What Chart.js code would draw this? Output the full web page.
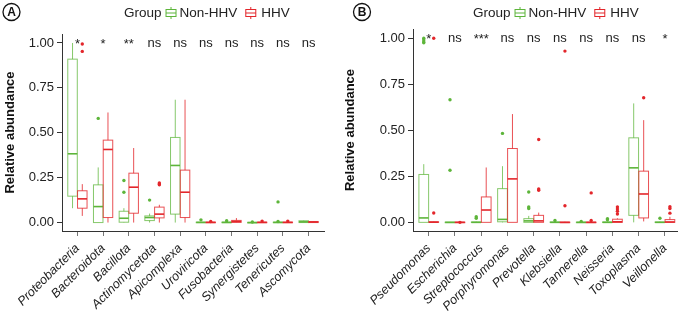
<!DOCTYPE html>
<html>
<head>
<meta charset="utf-8">
<script src="https://cdn.jsdelivr.net/npm/chart.js@4.4.0/dist/chart.umd.min.js"></script>
<style>
  body { margin: 0; background: #fff; width: 681px; height: 318px; overflow: hidden; position: relative; }
  .panel { position: absolute; top: 0; height: 318px; }
  #panel-a { left: 0; width: 340px; }
  #panel-b { left: 340px; width: 341px; }
</style>
</head>
<body>
<div class="panel" id="panel-a"><canvas id="chart-a"></canvas></div>
<div class="panel" id="panel-b"><canvas id="chart-b"></canvas></div>
<script>
const GREEN = '#5DB53A';
const RED = '#E3262B';
const GREEN_LINE = 'rgba(93,181,58,0.75)';
const RED_LINE = 'rgba(227,38,43,0.8)';
const FONT = '"Liberation Sans", Arial, Helvetica, sans-serif';

// Panel A: phyla
const phylaCategories = ['Proteobacteria', 'Bacteroidota', 'Bacillota', 'Actinomycetota', 'Apicomplexa',
    'Uroviricota', 'Fusobacteria', 'Synergistetes', 'Tenericutes', 'Ascomycota'];
const phylaSignif = ['*', '*', '**', 'ns', 'ns', 'ns', 'ns', 'ns', 'ns', 'ns'];
// [whisker low, q1, median, q3, whisker high]
const phylaNonHhv = [
    [0.08, 0.147, 0.383, 0.91, 1.00],
    [0.0, 0.0, 0.089, 0.21, 0.307],
    [0.0, 0.002, 0.024, 0.063, 0.08],
    [0.0, 0.011, 0.028, 0.037, 0.05],
    [0.0, 0.047, 0.318, 0.474, 0.684],
    [0, 0, 0.001, 0.002, 0.003],
    [0, 0, 0.001, 0.002, 0.003],
    [0, 0, 0, 0.001, 0.002],
    [0, 0, 0.001, 0.002, 0.004],
    [0, 0, 0.004, 0.01, 0.012]
];
const phylaHhv = [
    [0.037, 0.08, 0.132, 0.177, 0.214],
    [0.0, 0.028, 0.407, 0.459, 0.613],
    [0.0, 0.052, 0.197, 0.275, 0.415],
    [0.0, 0.026, 0.047, 0.086, 0.099],
    [0.0, 0.028, 0.169, 0.292, 0.684],
    [0, 0, 0.001, 0.002, 0.004],
    [0, 0.001, 0.006, 0.012, 0.025],
    [0, 0, 0.001, 0.002, 0.003],
    [0, 0, 0.001, 0.002, 0.003],
    [0, 0, 0.003, 0.006, 0.008]
];
// [category index, value]
const phylaOutNonHhv = [[1, 0.58], [2, 0.234], [2, 0.169], [3, 0.125], [5, 0.015], [6, 0.01],
    [7, 0.003], [8, 0.115], [8, 0.006]];
const phylaOutHhv = [[0, 0.994], [0, 0.953], [3, 0.22], [3, 0.215], [3, 0.21], [5, 0.006],
    [7, 0.008], [8, 0.008]];

// Panel B: genera
const genusCategories = ['Pseudomonas', 'Escherichia', 'Streptococcus', 'Porphyromonas', 'Prevotella',
    'Klebsiella', 'Tannerella', 'Neisseria', 'Toxoplasma', 'Veillonella'];
const genusSignif = ['*', 'ns', '***', 'ns', 'ns', 'ns', 'ns', 'ns', 'ns', '*'];
const genusNonHhv = [
    [0, 0, 0.024, 0.26, 0.316],
    [0, 0, 0, 0.001, 0.002],
    [0, 0, 0, 0.002, 0.004],
    [0, 0.003, 0.016, 0.183, 0.305],
    [0, 0, 0.008, 0.02, 0.035],
    [0, 0, 0, 0.002, 0.004],
    [0, 0, 0, 0.001, 0.003],
    [0, 0, 0, 0.002, 0.004],
    [0, 0.038, 0.296, 0.459, 0.646],
    [0, 0, 0, 0.002, 0.004]
];
const genusHhv = [
    [0, 0, 0.001, 0.003, 0.005],
    [0, 0, 0, 0.001, 0.002],
    [0, 0, 0.067, 0.138, 0.298],
    [0, 0, 0.236, 0.401, 0.588],
    [0, 0, 0.008, 0.038, 0.053],
    [0, 0, 0, 0.001, 0.003],
    [0, 0, 0, 0.001, 0.003],
    [0, 0, 0.003, 0.017, 0.022],
    [0.005, 0.024, 0.154, 0.278, 0.555],
    [0, 0, 0.002, 0.015, 0.03]
];
const genusOutNonHhv = [[0, 1.0], [0, 0.99], [0, 0.98], [0, 0.975], [1, 0.283], [1, 0.666], [2, 0.03],
    [2, 0.022], [3, 0.483], [4, 0.165], [4, 0.083], [4, 0.075], [5, 0.01], [6, 0.005], [7, 0.02],
    [7, 0.014], [9, 0.022]];
const genusOutHhv = [[0, 0.051], [0, 1.0], [1, 0.0], [4, 0.45], [4, 0.181], [4, 0.174], [5, 0.09],
    [5, 0.93], [6, 0.16], [6, 0.01], [7, 0.083], [7, 0.072], [7, 0.06], [7, 0.045], [8, 0.677],
    [9, 0.085], [9, 0.075], [9, 0.05]];

const yTicks = [0, 0.25, 0.5, 0.75, 1.0];
const groupNames = ['Non-HHV', 'HHV'];
const DODGE = 0.19;
const HALF = 0.185;

Chart.defaults.font.family = FONT;

function drawLegendIcon(ctx, x, cy, color) {
    ctx.strokeStyle = color;
    ctx.lineWidth = 1;
    ctx.beginPath();
    ctx.moveTo(x + 5.5, cy - 6); ctx.lineTo(x + 5.5, cy - 3.5);
    ctx.moveTo(x + 5.5, cy + 3.5); ctx.lineTo(x + 5.5, cy + 6);
    ctx.strokeRect(x + 0.5, cy - 3.5, 10, 7);
    ctx.moveTo(x + 0.5, cy); ctx.lineTo(x + 10.5, cy);
    ctx.stroke();
}

function makePanelPlugin(panel) {
    return {
        id: 'panel' + panel.letter,
        beforeDatasetsDraw(chart) {
            const { ctx, scales: { x, y } } = chart;
            const groups = [
                { stats: panel.nonHhv, offset: -DODGE, line: GREEN_LINE, color: GREEN },
                { stats: panel.hhv, offset: DODGE, line: RED_LINE, color: RED }
            ];
            ctx.save();
            groups.forEach(g => {
                g.stats.forEach((s, i) => {
                    const cx = i + g.offset;
                    const xl = x.getPixelForValue(cx - HALF);
                    const xr = x.getPixelForValue(cx + HALF);
                    const xc = x.getPixelForValue(cx);
                    const [lo, q1, med, q3, hi] = s.map(v => y.getPixelForValue(v));
                    ctx.strokeStyle = g.line;
                    ctx.lineWidth = 1;
                    ctx.beginPath();
                    ctx.moveTo(xc, hi); ctx.lineTo(xc, q3);
                    ctx.moveTo(xc, q1); ctx.lineTo(xc, lo);
                    ctx.stroke();
                    ctx.strokeRect(xl, q3, xr - xl, Math.max(q1 - q3, 0.5));
                    ctx.strokeStyle = g.color;
                    ctx.lineWidth = 1.6;
                    ctx.beginPath();
                    ctx.moveTo(xl, med); ctx.lineTo(xr, med);
                    ctx.stroke();
                });
            });
            ctx.restore();
        },
        afterDraw(chart) {
            const { ctx, scales: { x, y } } = chart;
            ctx.save();
            // significance labels
            ctx.fillStyle = '#222';
            ctx.font = '13px ' + FONT;
            ctx.textAlign = 'center';
            ctx.textBaseline = 'middle';
            panel.signif.forEach((t, i) => {
                const ty = t === 'ns' ? y.getPixelForValue(1.0) : y.getPixelForValue(1.0) + 1;
                ctx.fillText(t, x.getPixelForValue(i), ty);
            });
            // panel letter
            ctx.strokeStyle = '#111';
            ctx.lineWidth = 1.3;
            ctx.beginPath();
            ctx.arc(panel.letterX, 12, 8.5, 0, Math.PI * 2);
            ctx.stroke();
            ctx.fillStyle = '#111';
            ctx.font = 'bold 12px ' + FONT;
            ctx.fillText(panel.letter, panel.letterX, 12.5);
            // legend
            ctx.font = '13.5px ' + FONT;
            ctx.textAlign = 'left';
            ctx.fillStyle = '#222';
            let lx = panel.legendX;
            const ly = 13;
            ctx.fillText('Group', lx, ly);
            lx += ctx.measureText('Group').width + 4;
            drawLegendIcon(ctx, lx, ly, GREEN);
            lx += 14;
            ctx.fillText(groupNames[0], lx, ly);
            lx += ctx.measureText(groupNames[0]).width + 8;
            drawLegendIcon(ctx, lx, ly, RED);
            lx += 16;
            ctx.fillText(groupNames[1], lx, ly);
            ctx.restore();
        }
    };
}

function buildPanel(canvasId, panel) {
    const outData = (list, off) => list.map(([i, v]) => ({ x: i + off, y: v }));
    return new Chart(document.getElementById(canvasId), {
        type: 'scatter',
        data: {
            datasets: [
                { label: groupNames[0], data: outData(panel.outNonHhv, -DODGE), backgroundColor: GREEN,
                    borderWidth: 0, pointRadius: 1.7 },
                { label: groupNames[1], data: outData(panel.outHhv, DODGE), backgroundColor: RED,
                    borderWidth: 0, pointRadius: 1.7 }
            ]
        },
        options: {
            responsive: true,
            maintainAspectRatio: false,
            animation: false,
            layout: { padding: { top: panel.padTop, right: panel.padRight, left: 0, bottom: 0 } },
            plugins: { legend: { display: false }, tooltip: { enabled: false } },
            scales: {
                x: {
                    type: 'linear',
                    min: -0.6,
                    max: panel.xMax,
                    afterBuildTicks: s => { s.ticks = panel.categories.map((c, i) => ({ value: i })); },
                    afterFit: s => { s.height = 87; s.paddingLeft = 0; s.paddingRight = 0; },
                    ticks: {
                        autoSkip: false,
                        maxRotation: 45,
                        minRotation: 45,
                        padding: 5,
                        color: '#222',
                        font: { size: 12.5, style: 'italic' },
                        callback: v => panel.categories[v]
                    },
                    grid: { drawOnChartArea: false, drawTicks: true, tickLength: 5, color: '#777' },
                    border: { color: '#333', width: 1 }
                },
                y: {
                    type: 'linear',
                    min: -0.047,
                    max: 1.05,
                    afterBuildTicks: s => { s.ticks = yTicks.map(v => ({ value: v })); },
                    afterFit: s => { s.width = panel.leftWidth; s.paddingTop = 0; s.paddingBottom = 0; },
                    ticks: {
                        padding: 3,
                        color: '#222',
                        font: { size: 13 },
                        callback: v => v.toFixed(2)
                    },
                    grid: { drawOnChartArea: false, drawTicks: true, tickLength: 5, color: '#333' },
                    border: { color: '#333', width: 1 },
                    title: {
                        display: true,
                        text: 'Relative abundance',
                        color: '#111',
                        font: { size: 13, weight: 'bold' },
                        padding: { top: 3, bottom: 0 }
                    }
                }
            }
        },
        plugins: [makePanelPlugin(panel)]
    });
}

buildPanel('chart-a', {
    letter: 'A', letterX: 11.5, legendX: 124,
    categories: phylaCategories, signif: phylaSignif,
    nonHhv: phylaNonHhv, hhv: phylaHhv, outNonHhv: phylaOutNonHhv, outHhv: phylaOutHhv,
    padTop: 34, padRight: 16, leftWidth: 62, xMax: 9.6
});

buildPanel('chart-b', {
    letter: 'B', letterX: 22, legendX: 133,
    categories: genusCategories, signif: genusSignif,
    nonHhv: genusNonHhv, hhv: genusHhv, outNonHhv: genusOutNonHhv, outHhv: genusOutHhv,
    padTop: 29, padRight: 0, leftWidth: 73, xMax: 9.46
});
</script>
</body>
</html>
